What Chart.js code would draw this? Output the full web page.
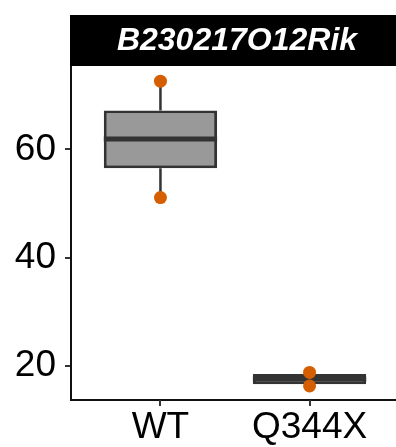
<!DOCTYPE html>
<html>
<head>
<meta charset="utf-8">
<script src="https://cdn.jsdelivr.net/npm/chart.js@4"></script>
<style>
  html, body { margin: 0; padding: 0; background: #fff; overflow: hidden; }
  #wrap { width: 400px; height: 447px; }
</style>
</head>
<body>
<div id="wrap"><canvas id="chart" width="400" height="447"></canvas></div>
<script>
// values
const stripTitle = 'B230217O12Rik';
const categories = ['WT', 'Q344X'];
const whiskerLow = [51.1, 16.3];
const q1 = [56.5, 16.6];
const median = [61.9, 17.6];
const q3 = [67.2, 18.5];
const whiskerHigh = [72.6, 18.8];
const pointGroup = [0, 0, 1, 1];
const pointValues = [72.6, 51.1, 18.8, 16.3];
const yTicks = [20, 40, 60];

const FONT = '"Liberation Sans", Arial, sans-serif';
const LINE = '#333333';

// whiskers behind the boxes, medians on top of them, strip on top of the panel
const boxPlugin = {
    id: 'boxParts',
    beforeDatasetsDraw(chart) {
        const ctx = chart.ctx;
        const x = chart.scales.x, y = chart.scales.y;
        ctx.save();
        ctx.strokeStyle = LINE;
        ctx.lineWidth = 2.5;
        categories.forEach((c, i) => {
            const px = x.getPixelForValue(i);
            ctx.beginPath();
            ctx.moveTo(px, y.getPixelForValue(whiskerLow[i]));
            ctx.lineTo(px, y.getPixelForValue(q1[i]));
            ctx.moveTo(px, y.getPixelForValue(q3[i]));
            ctx.lineTo(px, y.getPixelForValue(whiskerHigh[i]));
            ctx.stroke();
        });
        ctx.restore();
    },
    afterDatasetDraw(chart, args) {
        if (args.index !== 0) return;
        const ctx = chart.ctx;
        const y = chart.scales.y;
        ctx.save();
        ctx.strokeStyle = LINE;
        ctx.lineWidth = 5;
        args.meta.data.forEach((bar, i) => {
            const half = bar.width / 2;
            const py = y.getPixelForValue(median[i]);
            ctx.beginPath();
            ctx.moveTo(bar.x - half, py);
            ctx.lineTo(bar.x + half, py);
            ctx.stroke();
        });
        ctx.restore();
    },
    afterDraw(chart) {
        const ctx = chart.ctx;
        const area = chart.chartArea;
        const x = chart.scales.x;
        ctx.save();
        // x tick marks under each group
        ctx.strokeStyle = LINE;
        ctx.lineWidth = 2;
        categories.forEach((c, i) => {
            const px = Math.round(x.getPixelForValue(i));
            ctx.beginPath();
            ctx.moveTo(px, area.bottom);
            ctx.lineTo(px, area.bottom + 6);
            ctx.stroke();
        });
        // facet strip
        ctx.fillStyle = '#000';
        ctx.fillRect(area.left - 1, 15, chart.width - area.left + 1, area.top - 15);
        ctx.fillStyle = '#fff';
        ctx.font = 'italic bold 32px ' + FONT;
        ctx.textAlign = 'center';
        ctx.textBaseline = 'middle';
        ctx.fillText(stripTitle, (area.left + area.right) / 2 + 2, (15 + area.top) / 2 + 1);
        ctx.restore();
    }
};

const ctx = document.getElementById('chart').getContext('2d');
new Chart(ctx, {
    type: 'bar',
    data: {
        datasets: [{
            type: 'bar',
            data: categories.map((c, i) => ({ x: i, y: [q1[i], q3[i]] })),
            backgroundColor: '#999999',
            borderColor: LINE,
            borderWidth: 3,
            borderSkipped: false,
            barPercentage: 0.76,
            categoryPercentage: 1,
            order: 0
        }, {
            type: 'scatter',
            data: pointValues.map((v, i) => ({ x: pointGroup[i], y: v })),
            backgroundColor: '#D55E00',
            borderColor: '#D55E00',
            borderWidth: 0,
            pointRadius: 6.5,
            order: -1
        }]
    },
    options: {
        responsive: false,
        animation: false,
        layout: { autoPadding: false, padding: { top: 66, right: 1, left: 0, bottom: 0 } },
        plugins: { legend: { display: false }, tooltip: { enabled: false } },
        scales: {
            x: {
                type: 'linear',
                min: -0.6,
                max: 1.6,
                offset: false,
                afterBuildTicks: scale => { scale.ticks = categories.map((c, i) => ({ value: i })); },
                afterFit: scale => {
                    scale.height = 47;
                    scale.paddingLeft = 0;
                    scale.paddingRight = 0;
                },
                ticks: {
                    callback: v => categories[v],
                    color: '#000',
                    font: { family: FONT, size: 37 },
                    padding: 0,
                    maxRotation: 0,
                    autoSkip: false
                },
                grid: { offset: false, drawOnChartArea: false, drawTicks: true, tickLength: 6, color: LINE, lineWidth: 2 },
                border: { display: true, color: '#111', width: 2 }
            },
            y: {
                min: 13.7,
                max: 75.4,
                afterBuildTicks: scale => { scale.ticks = yTicks.map(v => ({ value: v })); },
                afterFit: scale => {
                    scale.width = 71;
                    scale.paddingTop = 0;
                    scale.paddingBottom = 0;
                },
                ticks: {
                    color: '#000',
                    font: { family: FONT, size: 37 },
                    padding: 9
                },
                grid: { drawOnChartArea: false, drawTicks: true, tickLength: 6, color: LINE, lineWidth: 2 },
                border: { display: true, color: '#111', width: 2 }
            }
        }
    },
    plugins: [boxPlugin]
});
</script>
</body>
</html>
